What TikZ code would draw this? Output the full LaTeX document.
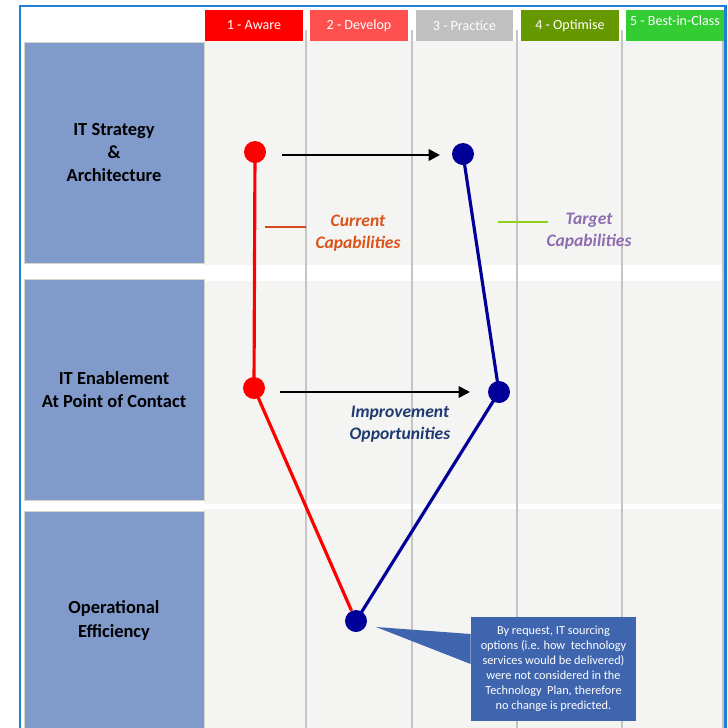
\documentclass[tikz,border=0pt]{standalone}
\usepackage{fontspec}
\setmainfont{Carlito}
\usetikzlibrary{arrows.meta}

\definecolor{frameblue}{HTML}{1E7FD6}
\definecolor{panelblue}{HTML}{7F9ACB}
\definecolor{paneledge}{HTML}{D6D6C8}
\definecolor{rowgray}{HTML}{F4F4F2}
\definecolor{gridgray}{HTML}{C4C4C4}
\definecolor{lvlA}{HTML}{FF0000}
\definecolor{lvlB}{HTML}{FF5050}
\definecolor{lvlC}{HTML}{C0C0C0}
\definecolor{lvlD}{HTML}{669900}
\definecolor{lvlE}{HTML}{33CC33}
\definecolor{curred}{HTML}{FF0000}
\definecolor{tgtblue}{HTML}{000099}
\definecolor{curtext}{HTML}{DB5318}
\definecolor{tgttext}{HTML}{8E6CB0}
\definecolor{imptext}{HTML}{1F3A70}
\definecolor{legred}{HTML}{D9481A}
\definecolor{leggreen}{HTML}{8FD01C}
\definecolor{noteblue}{HTML}{3F65AF}

\begin{document}
\begin{tikzpicture}[x=0.02cm, y=-0.02cm,
	hdr/.style={minimum width=19.6mm, minimum height=6.2mm, inner sep=0pt,
		text=white, font=\fontsize{8}{9.6}\selectfont},
	panel/.style={fill=panelblue, draw=paneledge, line width=0.5pt,
		minimum width=36mm, align=center, inner sep=0pt,
		font=\fontsize{10.5}{13.3}\selectfont\bfseries},
	dot/.style={circle, minimum size=4.4mm, inner sep=0pt},
	curline/.style={curred, line width=1.8pt},
	tgtline/.style={tgtblue, line width=1.8pt},
	move/.style={-{Triangle[length=2.3mm, width=2.3mm]}, line width=1.4pt},
	tag/.style={align=center, font=\fontsize{10}{12.5}\selectfont\bfseries\itshape},
]

% frame %{{{1

	\useasboundingbox (0,0) rectangle (728,728);

% rows and grid %{{{1

	\fill[rowgray] (204,41) rectangle (723,265);
	\fill[rowgray] (204,281) rectangle (723,504);
	\fill[rowgray] (204,509) rectangle (723,740);

	\foreach \gx in {306,412,517,622,723}
		\draw[gridgray, line width=0.9pt] (\gx,30) -- (\gx,740);

% level headers %{{{1

	\node[hdr, fill=lvlA] (lvl1) at (254,25.5) {1 - Aware};
	\node[hdr, fill=lvlB] (lvl2) at (359,25.5) {2 - Develop};
	\node[hdr, fill=lvlC] (lvl3) at (464.5,25.5) {3 - Practice};
	\node[hdr, fill=lvlD] (lvl4) at (570,25.5) {4 - Optimise};
	\node[hdr, fill=lvlE, text depth=2mm] (lvl5) at (675,25.5) {5 - Best-in-Class};

% area panels %{{{1

	\node[panel, minimum height=44.2mm] (strat) at (114,152.5)
		{IT Strategy\\\&\\Architecture};
	\node[panel, minimum height=44.2mm] (enable) at (114,389.5)
		{IT Enablement\\At Point of Contact};
	\node[panel, minimum height=43.8mm] (oper) at (114,620.5)
		{Operational\\Efficiency};

% points %{{{1

	\node[dot] (cur1) at (255,152) {};
	\node[dot] (cur2) at (254,388) {};
	\node[dot] (tgt1) at (463,154) {};
	\node[dot] (tgt2) at (499,392) {};
	\node[dot] (both) at (356,621) {};

	\coordinate (mv1a) at (282,155);
	\coordinate (mv1b) at (440,155);
	\coordinate (mv2a) at (280,392);
	\coordinate (mv2b) at (470,392);

% lines %{{{1

	\draw[curline] (cur1.center) -- (cur2.center) -- (both);
	\draw[tgtline] (tgt1.center) -- (tgt2.center) -- (both.center);

	\fill[curred] (cur1) circle (11);
	\fill[curred] (cur2) circle (11);
	\fill[tgtblue] (tgt1) circle (11);
	\fill[tgtblue] (tgt2) circle (11);
	\fill[tgtblue] (both) circle (11);

	\draw[move] (mv1a) -- (mv1b);
	\draw[move] (mv2a) -- (mv2b);

% legend %{{{1

	\coordinate (legA) at (265,227);
	\coordinate (legB) at (306,227);
	\coordinate (legC) at (498,222);
	\coordinate (legD) at (548,222);

	\draw[legred, line width=0.9pt] (legA) -- (legB);
	\draw[leggreen, line width=0.9pt] (legC) -- (legD);

	\node[tag, text=curtext] (curlbl) at (358,233) {Current\\Capabilities};
	\node[tag, text=tgttext] (tgtlbl) at (589,231) {Target\\Capabilities};
	\node[tag, text=imptext] (implbl) at (400,424) {Improvement\\Opportunities};

% note %{{{1

	\node[fill=noteblue, text=white, minimum width=33mm, minimum height=20.8mm,
		inner sep=0pt, align=center, font=\fontsize{7}{8.5}\selectfont] (note) at (553.5,669)
		{By request, IT sourcing\\options (i.e. how\ \ technology\\services would\ be delivered)\\
		 were not considered in the\\Technology\ \ Plan, therefore\\no change is predicted.};
	\coordinate (tip) at (376,627);
	\fill[noteblue] ([yshift=0.7cm]note.west) -- (tip) -- ([yshift=0.1cm]note.west) -- cycle;

% border %{{{1

	\draw[frameblue, line width=1.3pt] (20,740) -- (20,6) -- (725.5,6) -- (725.5,740);

% closing %{{{1

\end{tikzpicture}
\end{document}
